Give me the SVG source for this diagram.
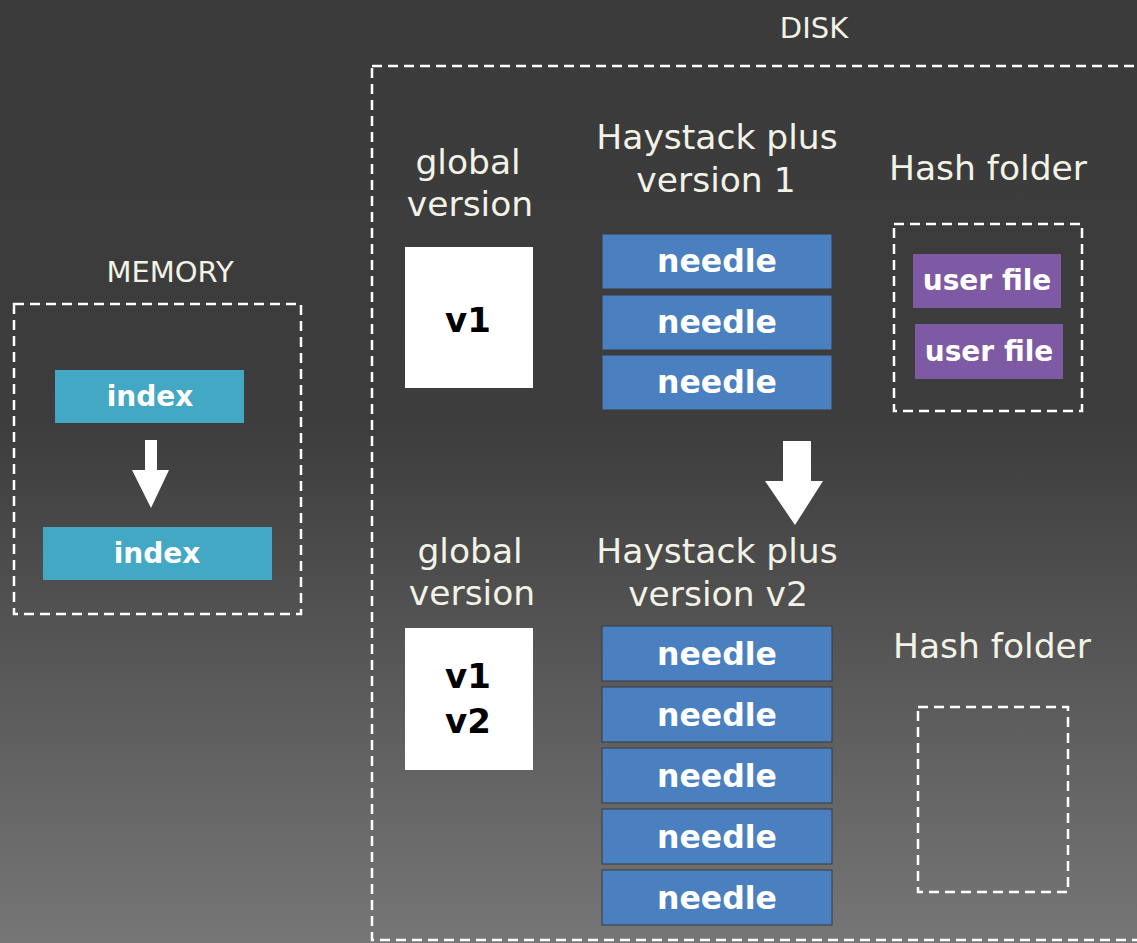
<svg xmlns="http://www.w3.org/2000/svg" width="1137" height="943" viewBox="0 0 1137 943">
  <defs>
    <linearGradient id="bg" x1="0" y1="0" x2="0" y2="1">
      <stop offset="0" stop-color="#3b3b3b"/>
      <stop offset="0.45" stop-color="#3d3d3d"/>
      <stop offset="1" stop-color="#767676"/>
    </linearGradient>
  </defs>
  <style>
    .frame { fill: none; stroke: #ffffff; stroke-width: 2.5; stroke-dasharray: 10 6; }
    .title { font-family: "DejaVu Sans", sans-serif; font-size: 29px; fill: #f2f2e6; text-anchor: middle; }
    .head { font-family: "DejaVu Sans", sans-serif; font-size: 34.5px; fill: #f2f2e6; text-anchor: middle; }
    .lbl { font-family: "DejaVu Sans", sans-serif; font-size: 31.5px; font-weight: bold; fill: #ffffff; text-anchor: middle; }
    .small { font-size: 28px; }
    .ver { font-family: "DejaVu Sans", sans-serif; font-size: 34px; font-weight: bold; fill: #000000; text-anchor: middle; }
    .idx { fill: #43a8c4; }
    .needle { fill: #4a7fc0; stroke: #3a3a3a; stroke-width: 1; }
    .ufile { fill: #7e5aa5; }
    .vbox { fill: #ffffff; }
    .arrow { fill: #ffffff; }
  </style>
  <rect width="1137" height="943" fill="url(#bg)"/>

  <!-- memory side -->
  <g id="memory">
    <text class="title" x="170" y="282">MEMORY</text>
    <rect class="frame" x="14" y="304" width="287" height="310"/>
  </g>
  <g id="index-old">
    <rect class="idx" x="55" y="370" width="189" height="53"/>
    <text class="lbl small" x="150" y="406">index</text>
  </g>
  <g id="index-new">
    <rect class="idx" x="43" y="527" width="229" height="53"/>
    <text class="lbl small" x="157" y="563">index</text>
  </g>

  <!-- disk side -->
  <g id="disk">
    <text class="title" x="814" y="38">DISK</text>
    <rect class="frame" x="372" y="66" width="780" height="874"/>
  </g>

  <g id="global-v1">
    <text class="head" x="468" y="174">global</text>
    <text class="head" x="470" y="216">version</text>
    <rect class="vbox" x="405" y="247" width="128" height="141"/>
    <text class="ver" x="468" y="332">v1</text>
  </g>

  <g id="haystack-v1">
    <text class="head" x="717" y="149">Haystack plus</text>
    <text class="head" x="716" y="192">version 1</text>
    <rect class="needle" x="602" y="234" width="230" height="55"/>
    <text class="lbl" x="717" y="272">needle</text>
    <rect class="needle" x="602" y="295" width="230" height="55"/>
    <text class="lbl" x="717" y="333">needle</text>
    <rect class="needle" x="602" y="355" width="230" height="55"/>
    <text class="lbl" x="717" y="393">needle</text>
  </g>

  <g id="hash-v1">
    <text class="head" x="988" y="180">Hash folder</text>
    <rect class="frame" x="894" y="224" width="188" height="187"/>
    <rect class="ufile" x="913" y="254" width="148" height="54"/>
    <text class="lbl small" x="987" y="290">user file</text>
    <rect class="ufile" x="915" y="324" width="148" height="55"/>
    <text class="lbl small" x="989" y="361">user file</text>
  </g>

  <g id="global-v2">
    <text class="head" x="470" y="563">global</text>
    <text class="head" x="472" y="605">version</text>
    <rect class="vbox" x="405" y="628" width="128" height="142"/>
    <text class="ver" x="468" y="688">v1</text>
    <text class="ver" x="468" y="733">v2</text>
  </g>

  <g id="haystack-v2">
    <text class="head" x="717" y="563">Haystack plus</text>
    <text class="head" x="718" y="606">version v2</text>
    <rect class="needle" x="602" y="626" width="230" height="55"/>
    <text class="lbl" x="717" y="665">needle</text>
    <rect class="needle" x="602" y="687" width="230" height="55"/>
    <text class="lbl" x="717" y="726">needle</text>
    <rect class="needle" x="602" y="748" width="230" height="55"/>
    <text class="lbl" x="717" y="787">needle</text>
    <rect class="needle" x="602" y="809" width="230" height="55"/>
    <text class="lbl" x="717" y="848">needle</text>
    <rect class="needle" x="602" y="870" width="230" height="55"/>
    <text class="lbl" x="717" y="909">needle</text>
  </g>

  <g id="hash-v2">
    <text class="head" x="992" y="658">Hash folder</text>
    <rect class="frame" x="918" y="707" width="150" height="185"/>
  </g>

  <!-- transition arrows -->
  <g id="connectors">
    <polygon class="arrow" points="145,440 157,440 157,470 169,470 151,508 132,470 145,470"/>
    <polygon class="arrow" points="783,441 811,441 811,481 823,481 795,525 765,481 783,481"/>
  </g>
</svg>
